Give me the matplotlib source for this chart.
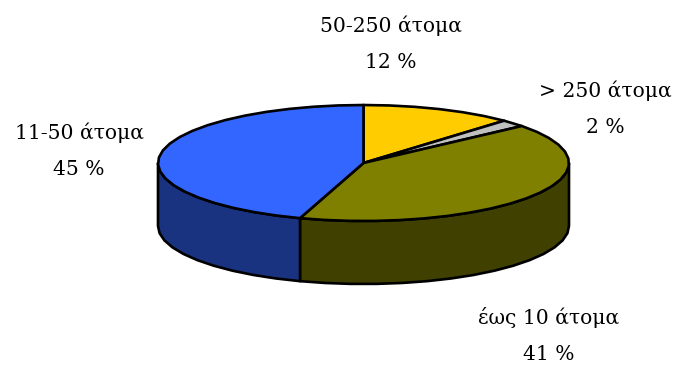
#!/usr/bin/env python

import matplotlib
matplotlib.use('Agg')
import matplotlib.pyplot as plt
import numpy as np

labels = ['50-250 άτομα', '> 250 άτομα', 'έως 10 άτομα', '11-50 άτομα']
values = [12, 2, 41, 45]
top_colors = ['#ffcc00', '#c0c0c0', '#808000', '#3366ff']
side_colors = ['#806600', '#606060', '#404000', '#1a3380']
label_pos = [(391, 32), (605, 97), (549, 324), (79, 139)]

cx, cy = 363.5, 163
rx, ry = 205.5, 58
depth = 63
fs = 14.6


def rim(t0, t1):
    # t is the angle clockwise from the top of the ellipse
    # few points on purpose, the outline is a coarse polygon
    n = max(2, int((t1 - t0)/7) + 1)
    t = np.radians(np.linspace(t0, t1, n))
    return cx + rx*np.sin(t), cy - ry*np.cos(t)


fig = plt.figure(figsize=(6.73, 3.65), dpi=100)
ax = fig.add_axes([0, 0, 1, 1])
ax.set_xlim(0, 673)
ax.set_ylim(365, 0)
ax.axis('off')

edges = np.concatenate([[0], np.cumsum(values)])*3.6

# side walls first, only the front half of the rim shows
for i in range(len(values)):
    t0, t1 = max(edges[i], 90), min(edges[i+1], 270)
    if t0 >= t1:
        continue
    x, y = rim(t0, t1)
    xs = np.concatenate([x, x[::-1]])
    ys = np.concatenate([y, y[::-1] + depth])
    ax.fill(xs, ys, facecolor=side_colors[i], edgecolor='k', lw=1.9, joinstyle='round')

# top face
for i in range(len(values)):
    x, y = rim(edges[i], edges[i+1])
    ax.fill(np.r_[cx, x], np.r_[cy, y], facecolor=top_colors[i], edgecolor='k', lw=1.9,
            joinstyle='round')

pct = ['%d %%' % v for v in values]
for name, p, (px, py) in zip(labels, pct, label_pos):
    ax.text(px, py, name, ha='center', va='baseline', fontsize=fs, family='DejaVu Serif')
    ax.text(px, py + 36, p, ha='center', va='baseline', fontsize=fs, family='DejaVu Serif')

fig.savefig('out.png', dpi=100)
